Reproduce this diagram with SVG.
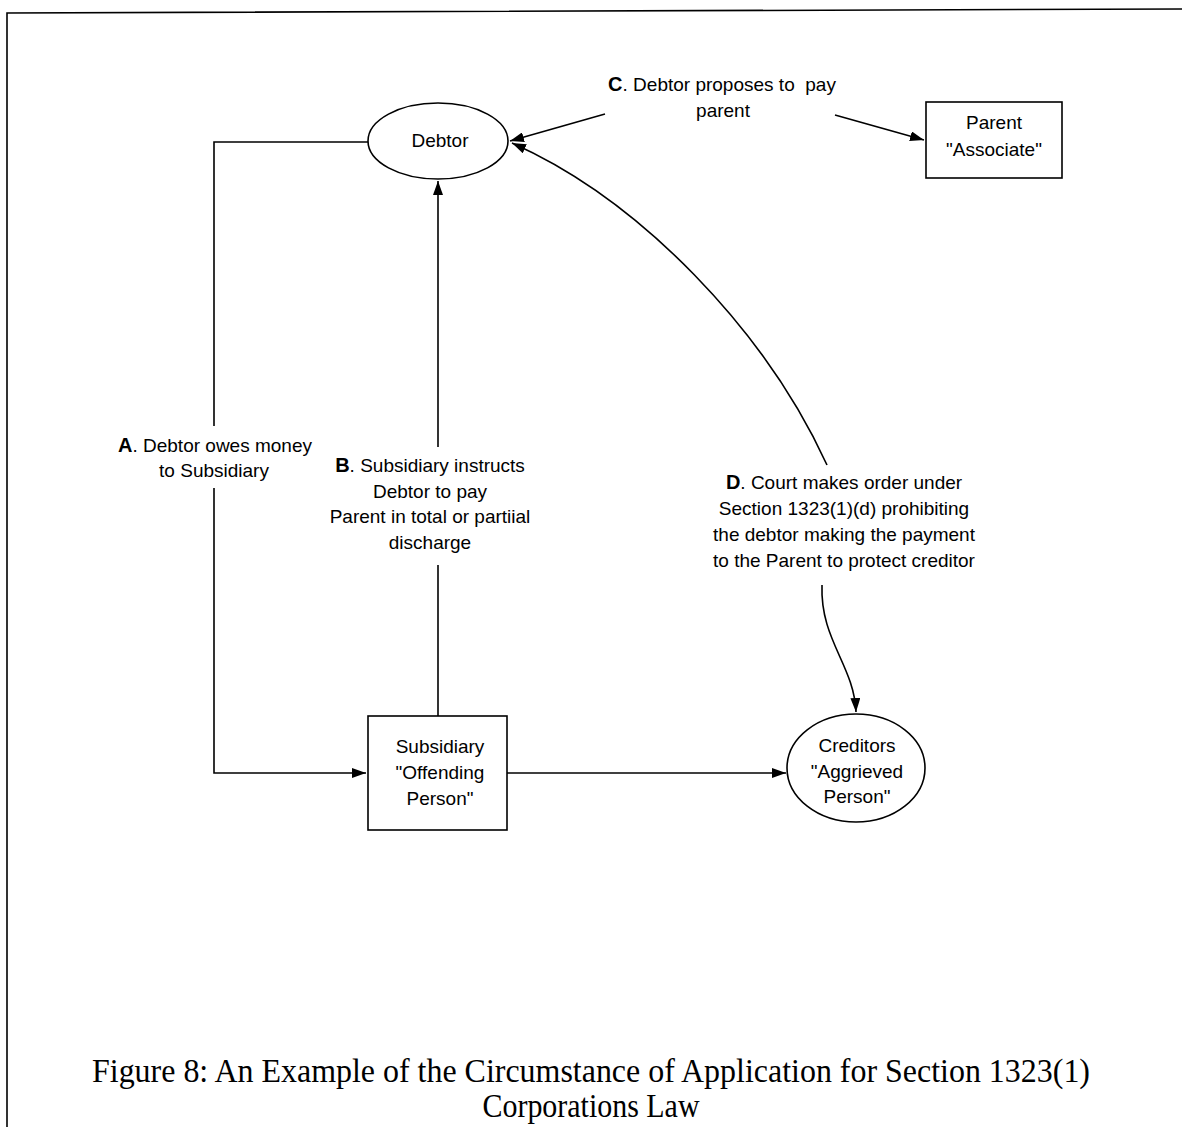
<svg xmlns="http://www.w3.org/2000/svg" width="1182" height="1127" viewBox="0 0 1182 1127">
<style>
.shape{fill:#fff;stroke:#000;stroke-width:1.6}
.conn{fill:none;stroke:#000;stroke-width:1.6}
.lbl{font-family:"Liberation Sans",Arial,sans-serif;font-size:19px;fill:#000;text-anchor:middle}
.b{font-weight:bold;font-size:20px}
.cap{font-family:"Liberation Serif","Times New Roman",serif;font-size:33px;fill:#000;text-anchor:middle}
</style>
<defs>
<marker id="arr" viewBox="0 0 14 10" refX="14" refY="5" markerWidth="14" markerHeight="10" markerUnits="userSpaceOnUse" orient="auto-start-reverse">
<path d="M0,0 L14,5 L0,10 z" fill="#000"/>
</marker>
</defs>
<rect width="1182" height="1127" fill="#fff"/>
<g id="frame">
<path class="conn" d="M7,1127 V13 L1182,9" stroke-width="2.2"/>
</g>
<g id="connectors">
<path class="conn" d="M368,142 H214 V426"/>
<path class="conn" d="M214,488 V773 H366" marker-end="url(#arr)"/>
<path class="conn" d="M438,716 V565"/>
<path class="conn" d="M438,447 V181" marker-end="url(#arr)"/>
<path class="conn" d="M605,114 L510,141" marker-end="url(#arr)"/>
<path class="conn" d="M835,115 L924,140" marker-end="url(#arr)"/>
<path class="conn" d="M827,465 C765,330 640,200 512,143" marker-end="url(#arr)"/>
<path class="conn" d="M822,585 C820,640 854,665 856,712" marker-end="url(#arr)"/>
<path class="conn" d="M507,773 H786" marker-end="url(#arr)"/>
</g>
<g id="debtor">
<ellipse class="shape" cx="438" cy="141" rx="70" ry="38"/>
<text class="lbl" x="440" y="147">Debtor</text>
</g>
<g id="parent">
<rect class="shape" x="926" y="102" width="136" height="76"/>
<text class="lbl" x="994" y="129">Parent</text>
<text class="lbl" x="994" y="156">"Associate"</text>
</g>
<g id="subsidiary">
<rect class="shape" x="368" y="716" width="139" height="114"/>
<text class="lbl" x="440" y="753">Subsidiary</text>
<text class="lbl" x="440" y="779">"Offending</text>
<text class="lbl" x="440" y="805">Person"</text>
</g>
<g id="creditors">
<ellipse class="shape" cx="856" cy="768" rx="69" ry="54"/>
<text class="lbl" x="857" y="752">Creditors</text>
<text class="lbl" x="857" y="778">"Aggrieved</text>
<text class="lbl" x="857" y="803">Person"</text>
</g>
<g id="labels">
<text class="lbl" x="215" y="452"><tspan class="b">A</tspan>. Debtor owes money</text>
<text class="lbl" x="214" y="477">to Subsidiary</text>
<text class="lbl" x="430" y="472"><tspan class="b">B</tspan>. Subsidiary instructs</text>
<text class="lbl" x="430" y="498">Debtor to pay</text>
<text class="lbl" x="430" y="523">Parent in total or partiial</text>
<text class="lbl" x="430" y="549">discharge</text>
<text class="lbl" x="722" y="91" xml:space="preserve"><tspan class="b">C</tspan>. Debtor proposes to  pay</text>
<text class="lbl" x="723" y="117">parent</text>
<text class="lbl" x="844" y="489"><tspan class="b">D</tspan>. Court makes order under</text>
<text class="lbl" x="844" y="515">Section 1323(1)(d) prohibiting</text>
<text class="lbl" x="844" y="541">the debtor making the payment</text>
<text class="lbl" x="844" y="567">to the Parent to protect creditor</text>
</g>
<g id="caption">
<text class="cap" x="591" y="1082" textLength="998" lengthAdjust="spacingAndGlyphs">Figure 8: An Example of the Circumstance of Application for Section 1323(1)</text>
<text class="cap" x="591" y="1117" textLength="217" lengthAdjust="spacingAndGlyphs">Corporations Law</text>
</g>
</svg>
